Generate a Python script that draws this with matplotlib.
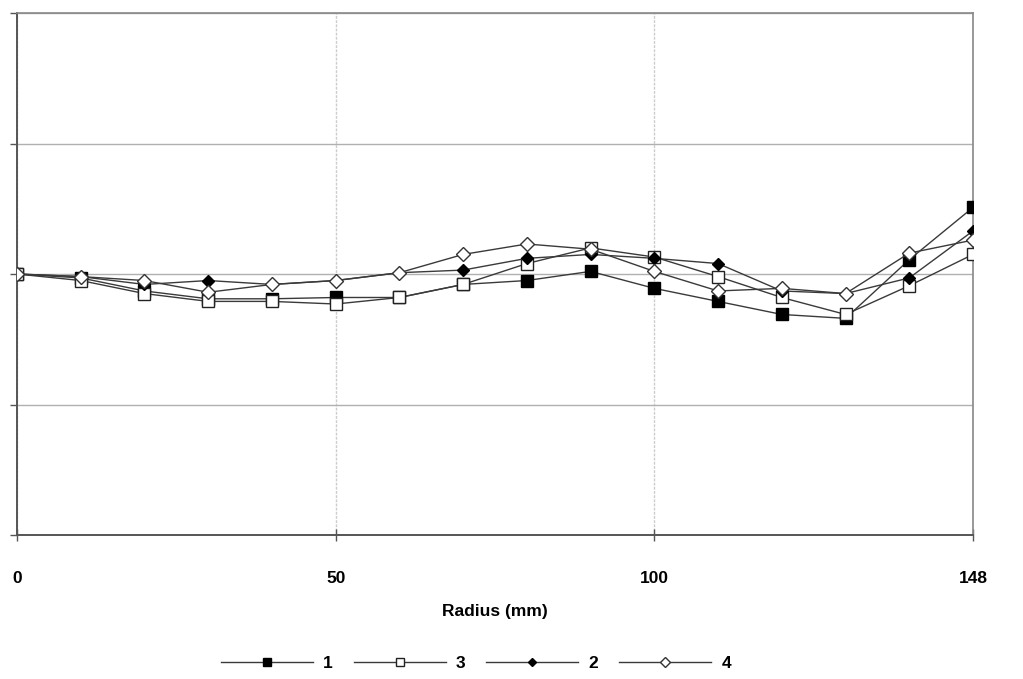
import matplotlib
matplotlib.use("Agg")
import matplotlib.pyplot as plt

plt.rcParams['font.family'] = ['Liberation Sans', 'DejaVu Sans']

# category positions (Excel-style category axis) and their labels
radius_labels = ["0", "10", "20", "30", "40", "50", "60", "70", "80", "90",
                 "100", "110", "120", "130", "140", "148"]
shown_labels = ["0", "50", "100", "148"]

# values (relative units, 0 = value at centre)
s1 = [0, -0.3, -1.3, -1.9, -1.9, -1.8, -1.8, -0.8, -0.5, 0.2, -1.1, -2.1, -3.1, -3.4, 1.1, 5.1]
s3 = [0, -0.5, -1.5, -2.1, -2.1, -2.3, -1.8, -0.8, 0.8, 2.0, 1.3, -0.2, -1.8, -3.1, -0.9, 1.5]
s2 = [0, -0.2, -0.8, -0.5, -0.8, -0.5, 0.1, 0.3, 1.2, 1.5, 1.2, 0.8, -1.3, -1.5, -0.3, 3.3]
s4 = [0, -0.2, -0.5, -1.4, -0.8, -0.5, 0.1, 1.5, 2.3, 1.9, 0.2, -1.3, -1.1, -1.5, 1.6, 2.6]
series_names = ["1", "3", "2", "4"]

fig = plt.figure(figsize=(10.23, 6.79), dpi=100)
ax = fig.add_axes([17/1023, 1-535/679, (973-17)/1023, (535-13)/679])

x = list(range(len(radius_labels)))
lc = "#3a3a3a"
ax.plot(x, s1, color=lc, lw=1.0, marker="s", ms=8, mfc="black", mec="black", label=series_names[0], zorder=3)
ax.plot(x, s3, color=lc, lw=1.0, marker="s", ms=9, mfc="white", mec="#222222", mew=1.0, label=series_names[1], zorder=4)
ax.plot(x, s2, color=lc, lw=1.0, marker="D", ms=6.5, mfc="black", mec="black", label=series_names[2], zorder=5)
ax.plot(x, s4, color=lc, lw=1.0, marker="D", ms=7.5, mfc="white", mec="#333333", mew=1.0, label=series_names[3], zorder=6)

ax.set_xlim(0, 15)
ax.set_ylim(-20, 20)
ax.set_yticks([-20, -10, 0, 10, 20])
ax.set_yticklabels([])
ax.set_xticks([0, 5, 10, 15])
ax.set_xticklabels(shown_labels, fontsize=12.5, fontweight="bold")
ax.tick_params(axis="x", direction="inout", length=8, width=1, color="#555555", pad=22)
ax.tick_params(axis="y", direction="out", length=5, width=1, color="#555555")

ax.grid(axis="y", color="#b0b0b0", lw=1.0)
ax.grid(axis="x", color="#cccccc", lw=1.0, ls=(0, (2, 1)))
ax.set_axisbelow(True)
for side in ["left", "bottom"]:
    ax.spines[side].set_color("#555555")
    ax.spines[side].set_linewidth(1.4)
for side in ["top", "right"]:
    ax.spines[side].set_color("#888888")
    ax.spines[side].set_linewidth(1.2)

ax.set_xlabel("Radius (mm)", fontsize=12.5, fontweight="bold", labelpad=13)

fig.legend(loc="center", bbox_to_anchor=(476/1023, 1-663/679), ncol=4, frameon=False,
           prop={"size": 12.5, "weight": "bold"}, handlelength=5.3, columnspacing=1.2,
           handletextpad=0.6, markerscale=0.7)

fig.savefig("out.png", dpi=100)
